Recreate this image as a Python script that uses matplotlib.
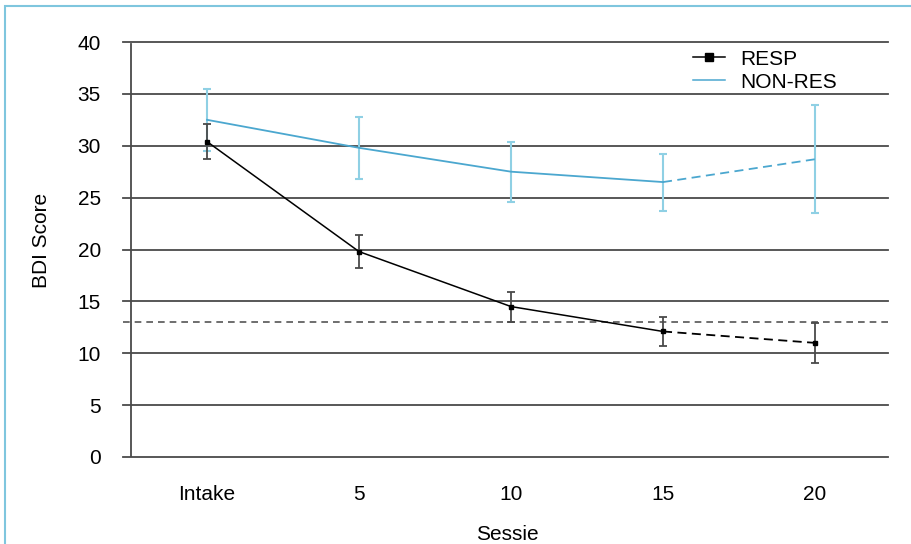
import matplotlib
matplotlib.use("Agg")
import matplotlib.pyplot as plt
from matplotlib.lines import Line2D
from matplotlib.patches import Rectangle

plt.rcParams['font.family'] = ['Liberation Sans', 'DejaVu Sans']

categories = ["Intake", "5", "10", "15", "20"]
resp_mean = [30.4, 19.8, 14.5, 12.1, 11.0]
resp_err = [1.7, 1.55, 1.45, 1.4, 1.9]
nonres_mean = [32.5, 29.8, 27.5, 26.5, 28.7]
nonres_err = [3.0, 3.0, 2.9, 2.75, 5.2]
cutoff = 13
yticks = [0, 5, 10, 15, 20, 25, 30, 35, 40]

W, H = 912, 544
FS = 15
fig = plt.figure(figsize=(W/100, H/100), dpi=100)
fig.patch.set_facecolor('white')
fig.patches.append(Rectangle((5/W, -0.1), 1.2, (H-6)/H + 0.1, transform=fig.transFigure,
                             fill=False, edgecolor='#7fc6de', lw=1.5))

ax = fig.add_axes([123/W, 87/H, (888-123)/W, (457-42)/H])
x = list(range(len(categories)))
ax.set_xlim(-0.5 - 8/152, 4.48)
ax.set_ylim(0, 40)
for s in ax.spines.values():
    s.set_visible(False)

grid_c = '#4a4a4a'
for yv in yticks:
    ax.axhline(yv, color=grid_c, lw=1.3, zorder=1, clip_on=False)
ax.plot([-0.5, -0.5], [0, 39.8], color=grid_c, lw=1.3, zorder=1)
ax.axhline(cutoff, color='#555555', lw=1.2, ls=(0, (4, 3)), zorder=1)

ax.set_yticks(yticks)
ax.set_yticklabels([str(v) for v in yticks])
ax.set_xticks(x)
ax.set_xticklabels(categories)
ax.tick_params(axis='y', length=0, pad=16, labelsize=FS)
ax.tick_params(axis='x', length=0, pad=20, labelsize=FS)

nr_c = '#4ba7cf'
nr_e = '#8fd0e4'
ax.errorbar(x, nonres_mean, yerr=nonres_err, fmt='none', ecolor=nr_e, elinewidth=1.5,
            capsize=3, capthick=1.5, zorder=2)
ax.plot(x[:4], nonres_mean[:4], color=nr_c, lw=1.3, zorder=3)
ax.plot(x[3:], nonres_mean[3:], color=nr_c, lw=1.3, ls=(0, (5, 3)), zorder=3)

ax.errorbar(x, resp_mean, yerr=resp_err, fmt='none', ecolor='#4a4a4a', elinewidth=1.3,
            capsize=3, capthick=1.3, zorder=4)
ax.plot(x[:4], resp_mean[:4], color='black', lw=1.1, zorder=5)
ax.plot(x[3:], resp_mean[3:], color='black', lw=1.3, ls=(0, (5, 3)), zorder=5)
ax.plot(x, resp_mean, ls='none', marker='s', ms=3.3, color='black', zorder=6)

handles = [Line2D([], [], color='black', lw=1.1, marker='s', ms=6),
           Line2D([], [], color=nr_c, lw=1.1)]
fig.legend(handles, ['RESP', 'NON-RES'], loc='upper left',
           bbox_to_anchor=(678/W, 1 - 35/H), frameon=False, fontsize=FS,
           handlelength=1.55, handletextpad=0.75, labelspacing=0.2, borderpad=0.2)

fig.text(42/W, 1 - 240/H, 'BDI Score', rotation=90, ha='center', va='center', fontsize=FS)
fig.text(507/W, 1 - 535/H, 'Sessie', ha='center', va='center', fontsize=FS)

fig.savefig('out.png', dpi=100)
